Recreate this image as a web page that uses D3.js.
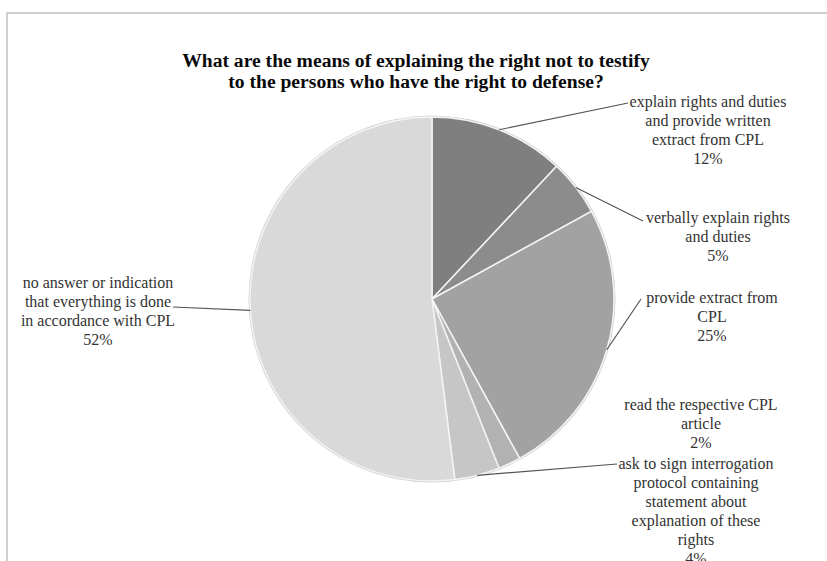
<!DOCTYPE html>
<html><head><meta charset="utf-8">
<script src="https://cdn.jsdelivr.net/npm/d3@7"></script>
<style>body{margin:0;background:#fff}svg{display:block}</style>
</head><body>
<script>
const categories = [
  "explain rights and duties and provide written extract from CPL",
  "verbally explain rights and duties",
  "provide extract from CPL",
  "read the respective CPL article",
  "ask to sign interrogation protocol containing statement about explanation of these rights",
  "no answer or indication that everything is done in accordance with CPL"
];
const values = [12, 5, 25, 2, 4, 52];
const colors = ["#7f7f7f", "#8c8c8c", "#a2a2a2", "#b2b2b2", "#c6c6c6", "#d9d9d9"];
const labelLines = [
  ["explain rights and duties", "and provide written", "extract from CPL", "12%"],
  ["verbally explain rights", "and duties", "5%"],
  ["provide extract from", "CPL", "25%"],
  ["read the respective CPL", "article", "2%"],
  ["ask to sign interrogation", "protocol containing", "statement about", "explanation of these", "rights", "4%"],
  ["no answer or indication", "that everything is done", "in accordance with CPL", "52%"]
];
const titleLines = ["What are the means of explaining the right not to testify", "to the persons who have the right to defense?"];

// layout
const W = 827, H = 561;
const cx = 432, cy = 299, R = 182;
const labelPos = [
  {x: 708, y: 107, lx: 628, ly: 103, leader: true},
  {x: 718, y: 223, lx: 643, ly: 221, leader: true},
  {x: 712, y: 303, lx: 641, ly: 299, leader: true},
  {x: 701, y: 410, leader: false},
  {x: 696, y: 469, lx: 617, ly: 464, leader: true},
  {x: 98, y: 288, lx: 173, ly: 307, leader: true}
];

const svg = d3.select("body").append("svg").attr("width", W).attr("height", H);
svg.append("rect").attr("width", W).attr("height", H).attr("fill", "#fff");
svg.append("rect").attr("x", 7).attr("y", 13).attr("width", W + 20).attr("height", H + 20)
  .attr("fill", "none").attr("stroke", "#d0d0d0").attr("stroke-width", 2);

svg.append("g").selectAll("text").data(titleLines).join("text")
  .attr("x", 416).attr("y", (d, i) => 67 + i * 21)
  .attr("text-anchor", "middle")
  .attr("font-family", "'Liberation Serif', 'Times New Roman', serif")
  .attr("font-weight", "bold").attr("font-size", 19.6).attr("fill", "#0a0a0a")
  .text(d => d);

const pie = d3.pie().sort(null).value(d => d);
const arcs = pie(values);
const arc = d3.arc().innerRadius(0).outerRadius(R);
const g = svg.append("g").attr("transform", `translate(${cx},${cy})`);
g.append("circle").attr("r", R + 1.5).attr("fill", "#cfcfcf");
g.selectAll("path").data(arcs).join("path")
  .attr("d", arc).attr("fill", (d, i) => colors[i])
  .attr("stroke", "#f4f4f4").attr("stroke-width", 1.5);

// leaders
const edge = d3.arc().innerRadius(R).outerRadius(R);
arcs.forEach((a, i) => {
  const p = labelPos[i];
  if (!p.leader) return;
  const [ex, ey] = edge.centroid(a);
  svg.append("line")
    .attr("x1", cx + ex).attr("y1", cy + ey)
    .attr("x2", p.lx).attr("y2", p.ly)
    .attr("stroke", "#555").attr("stroke-width", 1.2);
});

labelLines.forEach((lines, i) => {
  const p = labelPos[i];
  svg.append("g").selectAll("text").data(lines).join("text")
    .attr("x", p.x).attr("y", (d, j) => p.y + j * 19)
    .attr("text-anchor", "middle")
    .attr("font-family", "'Liberation Serif', 'Times New Roman', serif")
    .attr("font-size", 16).attr("fill", "#333")
    .text(d => d);
});
</script>
</body></html>
